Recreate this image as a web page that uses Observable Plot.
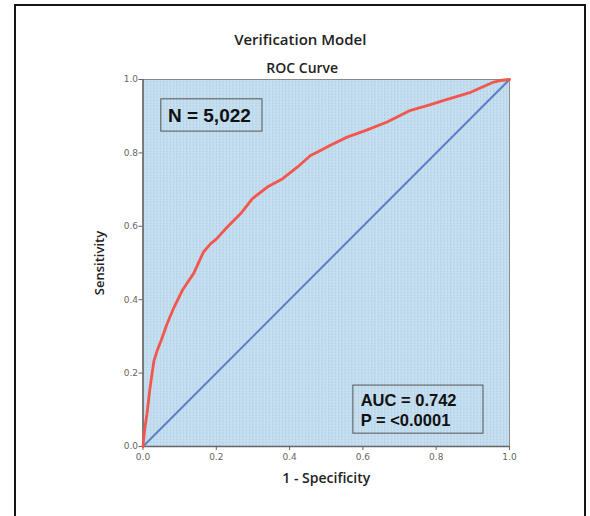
<!DOCTYPE html>
<html>
<head>
<meta charset="utf-8">
<script src="https://cdn.jsdelivr.net/npm/d3@7"></script>
<script src="https://cdn.jsdelivr.net/npm/@observablehq/plot@0.6"></script>
<style>
  html, body { margin: 0; padding: 0; background: #fff; width: 590px; height: 516px; overflow: hidden; }
  #frame { position: absolute; left: 14px; top: 4px; width: 572px; height: 600px; border: 2px solid #151515; box-sizing: border-box; }
  #chart { position: absolute; left: 0; top: 0; }
</style>
</head>
<body>
<div id="frame"></div>
<div id="chart"></div>
<script>
// ROC curve
const fpr = [0, 0.005, 0.011, 0.018, 0.022, 0.03, 0.039, 0.05, 0.066, 0.085, 0.107, 0.12, 0.138, 0.165, 0.184, 0.2, 0.23, 0.266, 0.298, 0.339, 0.38, 0.421, 0.457, 0.475, 0.51, 0.557, 0.61, 0.666, 0.73, 0.78, 0.821, 0.894, 0.934, 0.957, 0.98, 1];
const tpr = [0, 0.05, 0.09, 0.15, 0.18, 0.234, 0.262, 0.29, 0.335, 0.38, 0.425, 0.445, 0.471, 0.53, 0.552, 0.565, 0.598, 0.634, 0.675, 0.707, 0.729, 0.761, 0.793, 0.802, 0.82, 0.843, 0.862, 0.884, 0.916, 0.93, 0.943, 0.965, 0.983, 0.993, 0.998, 1];
const refX = [0, 1];
const refY = [0, 1];
const ticks = [0, 0.2, 0.4, 0.6, 0.8, 1.0];
const titleText = "Verification Model";
const subtitleText = "ROC Curve";
const xLabel = "1 - Specificity";
const yLabel = "Sensitivity";
const nText = "N = 5,022";
const statLines = ["AUC = 0.742", "P = <0.0001"];

const roc = fpr.map((x, i) => ({x, y: tpr[i]}));
const ref = refX.map((x, i) => ({x, y: refY[i]}));

const titleFont = "'Open Sans', 'DejaVu Sans', sans-serif";
const boxFont = "'Liberation Sans', Arial, sans-serif";

const svg = Plot.plot({
  width: 590,
  height: 516,
  marginLeft: 142.5,
  marginRight: 81,
  marginTop: 79,
  marginBottom: 70,
  style: {background: "transparent", overflow: "visible"},
  x: {domain: [0, 1], axis: null},
  y: {domain: [0, 1], axis: null},
  marks: [
    Plot.frame({fill: "#c6e0f1"}),
    Plot.frame({fill: "url(#dotpat)"}),
    Plot.frame({stroke: "#8a8a8a", strokeWidth: 1}),
    Plot.axisX({ticks, tickFormat: d3.format(".1f"), tickSize: 4, fontSize: 9, color: "#666", label: null, fontFamily: "'DejaVu Sans', sans-serif", tickPadding: 3}),
    Plot.axisY({ticks, tickFormat: d3.format(".1f"), tickSize: 4, fontSize: 9, color: "#666", label: null, fontFamily: "'DejaVu Sans', sans-serif", tickPadding: 1}),
    Plot.ruleY([0], {stroke: "#666", strokeWidth: 1.5}),
    Plot.ruleX([0], {stroke: "#666", strokeWidth: 1.5}),
    Plot.line(ref, {x: "x", y: "y", stroke: "#5a7fc8", strokeWidth: 2}),
    Plot.line(roc, {x: "x", y: "y", stroke: "#f2564d", strokeWidth: 2.8, strokeLinejoin: "round"}),
    // annotation boxes
    Plot.rect([{x1: 0.05, x2: 0.326, y1: 0.858, y2: 0.946}], {x1: "x1", x2: "x2", y1: "y1", y2: "y2", fill: "none", stroke: "#555", strokeWidth: 1}),
    Plot.text([nText], {x: 0.068, y: 0.902, text: d => d, textAnchor: "start", fontSize: 19, fontWeight: "bold", fontFamily: boxFont, fill: "#111"}),
    Plot.rect([{x1: 0.574, x2: 0.929, y1: 0.035, y2: 0.166}], {x1: "x1", x2: "x2", y1: "y1", y2: "y2", fill: "none", stroke: "#555", strokeWidth: 1}),
    Plot.text([statLines[0]], {x: 0.594, y: 0.125, text: d => d, textAnchor: "start", fontSize: 16.5, fontWeight: "bold", fontFamily: boxFont, fill: "#111"}),
    Plot.text([statLines[1]], {x: 0.594, y: 0.071, text: d => d, textAnchor: "start", fontSize: 16.5, fontWeight: "bold", fontFamily: boxFont, fill: "#111"}),
    // titles and axis labels
    Plot.text([titleText], {frameAnchor: "top", lineAnchor: "middle", dx: -26, dy: -39, text: d => d, fontSize: 15, fontWeight: 600, fontFamily: titleFont, fill: "#222"}),
    Plot.text([subtitleText], {frameAnchor: "top", lineAnchor: "middle", dx: -24, dy: -11, text: d => d, fontSize: 14, fontWeight: 600, fontFamily: titleFont, fill: "#222"}),
    Plot.text([xLabel], {frameAnchor: "bottom", lineAnchor: "middle", dy: 32, text: d => d, fontSize: 14, fontWeight: 600, fontFamily: titleFont, fill: "#222"}),
    Plot.text([yLabel], {x: 0, y: 0.5, dx: -43, rotate: -90, text: d => d, fontSize: 13, fontWeight: 600, fontFamily: titleFont, fill: "#222"})
  ]
});

// dotted texture pattern for the plot background
const defs = d3.select(svg).insert("defs", ":first-child");
const pat = defs.append("pattern").attr("id", "dotpat").attr("patternUnits", "userSpaceOnUse").attr("width", 3.3).attr("height", 3);
pat.append("rect").attr("x", 1).attr("y", 0).attr("width", 1).attr("height", 1.5).attr("fill", "#8eb0c8").attr("opacity", 0.6);

document.getElementById("chart").appendChild(svg);
</script>
</body>
</html>
